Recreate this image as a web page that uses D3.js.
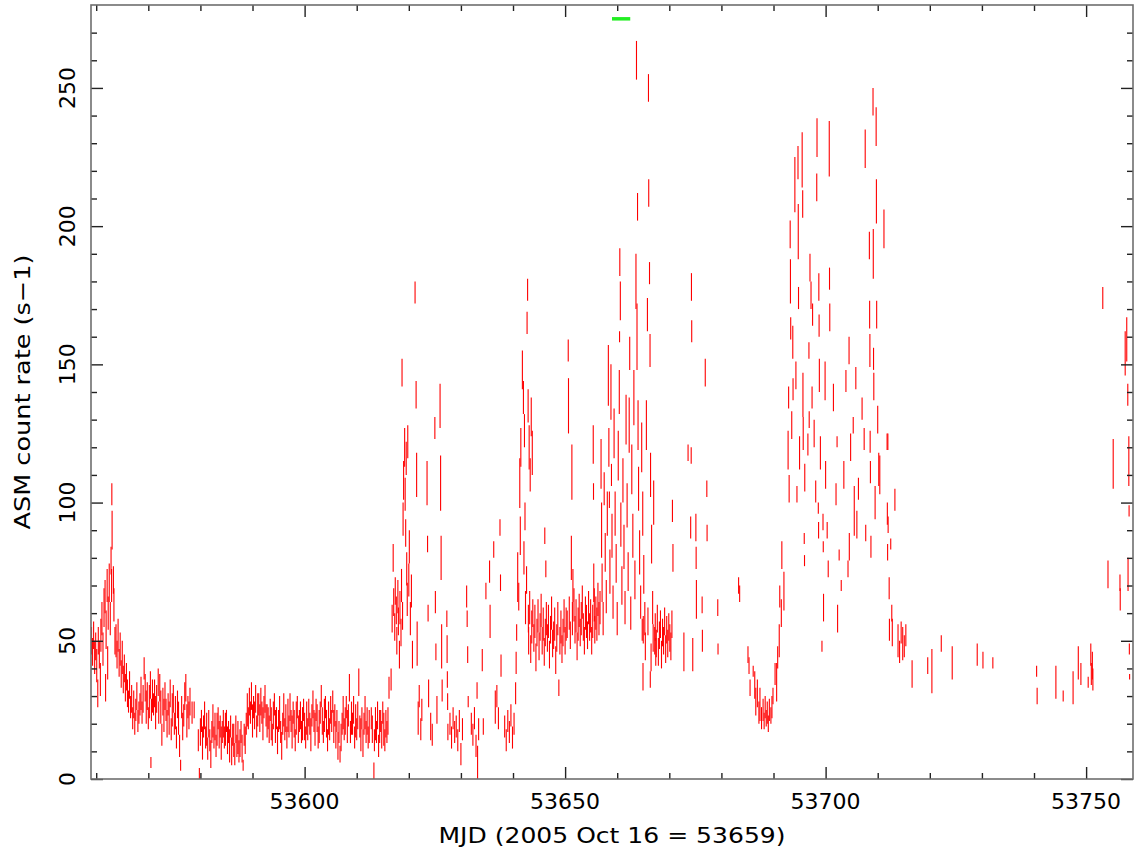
<!DOCTYPE html>
<html>
<head>
<meta charset="utf-8">
<script src="https://cdn.jsdelivr.net/npm/d3@7"></script>
<style>
  body { margin: 0; background: #fff; }
  text { font-family: "DejaVu Sans", sans-serif; fill: #000; }
</style>
</head>
<body>
<div class="chart"></div>
<script>
// ASM dwell points: [MJD, count rate, 1-sigma error]
var decayStart = [
  [53559.1,50,5],[53559.3,46,5],[53559.5,52,5],[53559.7,44,6],[53559.9,48,5],[53560.1,41,6],[53560.3,31,5],
  [53560.4,50,5],[53560.6,45,5],[53560.8,36,6],[53560.9,52,6],[53561.1,58,6],[53561.3,47,6],[53561.5,62,7],
  [53561.7,66,6],[53561.8,33,5],[53561.9,54,7],[53562.1,70,6],[53562.2,42,6],[53562.3,60,6],[53562.5,71,7],
  [53562.7,58,6],[53562.85,79,5],[53562.95,70,6],[53563.0,103,4],[53563.05,90,7],[53563.3,72,5],[53563.4,63,6],
  [53563.6,50,5],[53563.8,50,6],[53564.0,45,5],[53564.2,52,6],[53564.4,42,5],[53564.6,47,6],[53564.8,38,5],
  [53565.0,44,6],[53565.2,36,5],[53565.4,40,5],[53565.6,33,5],[53565.8,37,5],[53566.0,31,5],[53566.2,28,4],
  [53566.4,34,5],[53566.6,26,4],[53566.8,29,5],[53567.0,22,4],[53567.2,27,5],[53567.4,20,4],[53567.6,25,4],
  [53567.8,30,5],[53568.0,21,4],[53568.2,24,4]
];

var lowState1 = [
  [53568.4,27,4],[53568.6,31,6],[53568.8,24,4],[53569.0,29,5],[53569.2,40,4],[53569.4,33,5],[53569.6,26,6],
  [53569.8,30,5],[53570.0,22,4],[53570.2,28,6],[53570.4,34,5],[53570.5,6,2],[53570.6,25,4],[53570.8,30,6],
  [53571.0,27,4],[53571.2,31,5],[53571.4,24,6],[53571.6,29,5],[53571.9,35,5],[53572.0,24,4],[53572.2,33,5],
  [53572.4,26,6],[53572.6,16,4],[53572.8,28,5],[53573.0,23,6],[53573.2,30,5],[53573.4,25,4],[53573.6,20,5],
  [53573.8,27,4],[53574.0,22,6],[53574.2,31,5],[53574.4,18,4],[53574.6,25,6],[53574.8,29,5],[53575.0,20,4],
  [53575.2,24,6],[53575.4,15,4],[53575.6,27,5],[53575.8,22,6],[53576.0,12,4],[53576.2,5,2],[53576.4,26,4],
  [53576.6,19,5],[53576.8,23,4],[53577.0,30,5],[53577.2,33,5],[53577.4,21,6],[53577.6,26,4],[53577.8,23,5],
  [53578.0,28,5],[53578.4,24,4],[53578.8,25,3],[53579.6,14,4],[53579.8,2,2],
  [53580.0,17,5],[53580.2,21,4],[53580.4,13,6],[53580.6,19,4],[53580.8,23,5],[53581.0,15,4],[53581.2,18,6],
  [53581.4,11,4],[53581.6,20,5],[53581.8,14,4],[53582.0,9,5],[53582.2,17,4],[53582.4,21,6],[53582.6,15,4],
  [53582.8,19,5],[53583.0,12,4],[53583.2,18,6],[53583.4,22,4],[53583.6,16,5],[53583.8,19,4],[53584.0,13,6],
  [53584.2,17,4],[53584.4,20,5],[53584.6,15,4],[53584.8,18,6],[53585.0,21,4],[53585.2,14,5],[53585.4,17,4],
  [53585.6,12,6],[53585.8,19,4],[53586.0,10,5],[53586.2,16,4],[53586.4,14,6],[53586.6,9,4],[53586.8,18,5],
  [53587.0,12,4],[53587.2,15,6],[53587.4,10,4],[53587.6,13,5],[53587.8,17,4],[53588.0,11,5],[53588.2,5,2],
  [53588.4,16,4],[53588.6,14,5],
  [53588.8,20,4],[53589.0,25,6],[53589.2,22,4],[53589.4,28,5],[53589.6,24,4],[53589.8,30,5],[53590.0,21,6],
  [53590.2,26,4],[53590.4,23,5],[53590.6,29,5],[53590.8,19,4],[53591.0,25,6],[53591.2,27,4],[53591.4,22,5],
  [53591.6,28,5],[53591.8,24,4],[53592.0,20,6],[53592.2,26,4],[53592.4,29,5],[53592.6,23,4],[53592.8,21,6],
  [53593.0,22,4],[53593.2,18,5],[53593.4,25,4],[53593.6,20,6],[53593.8,16,4],[53594.0,23,5],[53594.2,27,4],
  [53594.4,19,6],[53594.6,22,4],[53594.8,14,5],[53595.0,21,4],[53595.2,24,6],[53595.4,17,4],[53595.6,12,5],
  [53595.8,20,4],[53596.0,25,6],[53596.2,18,4],[53596.4,22,5],[53596.6,15,4],[53596.8,23,6],[53597.0,19,4],
  [53597.2,26,5],[53597.4,21,4],[53597.6,17,6],[53597.8,24,4],[53598.0,20,5],[53598.2,14,4],[53598.4,22,6],
  [53598.6,26,4],[53598.8,18,5],[53599.0,21,4]
];

var lowState2 = [
  [53599.2,23,5],[53599.4,17,4],[53599.6,20,6],[53599.8,25,4],[53600.0,19,5],[53600.2,15,4],[53600.4,22,6],
  [53600.6,18,4],[53600.8,24,5],[53601.0,20,4],[53601.2,16,6],[53601.4,23,4],[53601.6,27,5],[53601.8,21,4],
  [53602.0,18,6],[53602.2,25,4],[53602.4,22,5],[53602.6,15,4],[53602.8,19,6],[53603.0,24,4],[53603.2,30,4],
  [53603.4,21,5],[53603.6,17,4],[53603.8,23,6],[53604.0,26,4],[53604.2,20,5],[53604.4,14,4],[53604.6,22,6],
  [53604.8,18,4],[53605.0,25,5],[53605.2,21,4],[53605.4,28,4],[53605.6,19,6],[53605.8,23,4],[53606.0,16,5],
  [53606.2,21,4],[53606.4,12,5],[53606.6,17,4],[53606.8,9,3],[53607.0,15,5],[53607.2,20,4],[53607.4,24,6],
  [53607.6,18,4],[53607.8,21,5],[53608.0,26,4],[53608.2,19,6],[53608.4,23,4],[53608.6,33,5],[53608.8,17,4],
  [53609.0,22,6],[53609.2,20,4],[53609.4,25,5],[53609.6,15,4],[53609.8,21,6],[53610.0,18,4],[53610.2,23,5],
  [53610.4,35,5],[53610.6,19,4],[53610.8,16,6],[53611.0,22,4],[53611.2,13,5],[53611.4,20,4],[53611.6,24,6],
  [53611.8,17,4],[53612.0,21,5],[53612.2,15,4],[53612.4,19,6],[53612.8,22,4],[53613.0,18,5],[53613.3,3,3],
  [53613.4,14,4],[53613.6,20,6],[53613.8,17,4],[53614.0,23,5],[53614.2,12,4],[53614.4,19,6],[53614.6,21,4],
  [53614.8,16,5],[53615.0,24,4],[53615.2,18,6],[53615.4,14,4],[53615.6,20,5],[53615.8,17,4],[53616.0,21,5],
  [53616.2,33,4]
];

var flareOne = [
  [53616.6,36,4],[53616.8,58,5],[53617.0,80,5],[53617.1,64,5],[53617.3,55,5],[53617.4,68,5],[53617.6,61,5],
  [53617.7,50,5],[53617.9,66,6],[53618.0,57,5],[53618.2,45,5],[53618.3,62,6],[53618.5,53,5],[53618.6,70,6],
  [53618.7,147,5],[53618.8,59,5],[53618.9,94,6],[53619.0,108,7],[53619.2,120,7],[53619.3,103,6],[53619.4,89,5],
  [53619.5,116,6],[53619.6,76,6],[53619.7,65,6],[53619.8,122,6],[53620.0,72,6],[53620.1,84,6],[53620.3,58,6],
  [53620.5,68,6],[53620.7,45,5],
  [53621.2,176,4],[53621.4,139,5],[53621.5,110,8],[53621.6,49,8],[53621.8,22,6],[53622.0,30,4],[53622.3,18,4],
  [53622.5,25,4],[53623.5,107,8],[53623.6,85,3],[53623.7,60,3],[53623.8,31,5],[53624.2,19,5],[53624.5,16,4],
  [53625.0,127,4],[53625.1,64,4],[53625.2,46,3],[53625.4,25,5],[53626.0,135,8],[53626.1,107,10],[53626.2,80,8],
  [53626.3,48,8],[53626.4,32,4],[53627.3,58,3],[53627.35,47,5],[53627.4,36,3],[53627.45,28,3],[53627.5,17,3],
  [53627.9,20,4],[53628.2,15,4],[53628.5,22,4],[53628.8,17,4],[53629.1,19,4],[53629.4,14,4],[53629.7,21,4],
  [53630.0,9,4],[53630.3,18,4],[53631.1,66,4],[53631.2,58,3],[53631.3,45,3],[53631.4,28,2],[53632.0,20,4],
  [53632.3,16,4],[53632.6,22,4],[53632.9,12,4],[53633.1,32,3],[53633.2,6,6],[53633.4,18,4],[53634.1,43,4],
  [53634.3,19,3],[53634.8,68,3],[53635.5,75,4],[53635.6,57,6],[53636.3,83,3],[53636.6,26,6],[53636.9,30,4],
  [53637.2,22,4],[53637.5,91,3],[53637.6,71,3],[53637.7,41,4],[53638.4,19,4],[53638.7,14,4],[53639.0,21,4],
  [53639.3,17,4],[53639.6,23,4],[53639.9,15,4],[53640.2,20,4],[53640.5,31,4],[53640.6,42,4],[53640.7,53,3],
  [53640.9,73,9],[53641.1,66,5],[53641.3,107,9],[53641.4,88,7],[53641.5,120,7],[53641.8,148,7],[53642.0,138,6],
  [53642.1,80,6],[53642.2,126,6],[53642.3,95,5],[53642.4,62,6],[53642.6,72,5],[53642.7,165,4],[53642.8,177,4]
];

var plateau = [
  [53642.9,135,6],[53643.1,120,8],[53643.3,110,6],[53643.5,131,7],[53643.7,118,8],
  [53642.95,58,5],[53643.0,50,5],[53643.2,62,6],[53643.4,47,5],[53643.6,55,6],[53643.8,60,5],[53644.0,51,5],
  [53644.2,57,6],[53644.4,44,5],[53644.6,53,5],[53644.8,59,6],[53645.0,48,5],[53645.2,55,5],[53645.4,61,6],
  [53645.6,50,5],[53645.8,56,6],[53646.0,46,5],[53646.1,88,3],[53646.2,53,5],[53646.3,76,3],[53646.4,58,6],
  [53646.6,51,5],[53646.8,57,6],[53647.0,45,5],[53647.2,54,5],[53647.4,60,6],[53647.6,49,5],[53647.8,52,5],
  [53648.0,56,6],[53648.2,43,5],[53648.4,51,5],[53648.6,58,6],[53648.8,33,3],[53649.0,50,5],[53649.2,55,6],
  [53649.4,47,5],[53649.6,53,5],[53649.8,59,6],[53650.0,50,5],[53650.2,56,6],[53650.4,56,5],[53650.6,155,4],
  [53650.65,135,10],[53650.8,60,6],[53651.0,52,5],[53651.2,80,8],[53651.3,111,10],[53651.4,58,6],[53651.5,70,6],
  [53651.7,63,6],[53651.9,54,5],[53652.1,59,6],[53652.3,48,5],[53652.5,56,6],[53652.7,61,6],[53652.9,53,5],
  [53653.1,58,6],[53653.3,64,6],[53653.5,55,5],[53653.7,50,5],[53653.9,60,6],[53654.1,57,6],[53654.3,52,5],
  [53654.5,62,6],[53654.7,55,5],[53654.9,59,6],[53655.1,50,5],[53655.3,57,6],[53655.4,121,7],[53655.45,104,3],
  [53655.5,71,7],[53655.6,63,6],[53655.7,54,5],[53655.9,60,6],[53656.1,56,6],[53656.3,65,6],[53656.5,58,6]
];

var flareTwo = [
  [53656.7,62,6],[53656.9,114,9],[53657.0,90,10],[53657.1,71,7],[53657.3,58,6],[53657.5,105,6],[53657.7,82,7],
  [53657.9,66,6],[53658.1,96,8],[53658.3,146,11],[53658.4,120,7],[53658.5,101,3],[53658.6,75,8],[53658.8,140,10],
  [53658.9,110,4],[53659.0,88,8],[53659.2,64,6],[53659.4,125,9],[53659.6,96,8],[53659.8,78,7],[53660.0,58,6],
  [53660.2,117,9],[53660.4,140,8],[53660.45,160,2],[53660.5,187,5],[53660.6,173,7],[53660.7,92,8],[53660.9,70,7],
  [53661.1,108,8],[53661.3,84,8],[53661.5,62,6],[53661.7,130,9],[53661.9,99,8],[53662.1,75,7],[53662.3,128,10],
  [53662.4,154,6],[53662.6,60,6],[53662.8,112,9],[53663.0,88,8],[53663.2,138,10],[53663.4,72,7],[53663.6,180,10],
  [53663.7,260,7],[53663.8,160,12],[53663.9,207,5],[53664.0,128,9],[53664.1,105,8],[53664.3,82,8],[53664.5,64,6],
  [53664.7,120,9],[53664.8,54,4],[53664.9,96,8],[53664.95,37,5],[53665.0,54,5],[53665.1,74,7],[53665.3,58,6],
  [53665.4,48,5],[53665.6,128,9],[53665.8,168,6],[53665.9,57,5],[53666.0,250,5],[53666.05,212,5],[53666.2,183,4],
  [53666.3,155,6],[53666.35,36,3],[53666.4,110,8],[53666.5,44,5],[53666.6,85,7],[53666.8,62,6],[53666.9,51,5],
  [53667.0,100,8],[53667.2,50,5],[53667.3,55,5],[53667.4,46,5],[53667.5,49,5],[53667.7,58,5],[53667.9,46,5],
  [53668.1,52,5],[53668.3,56,5],[53668.5,45,5],[53668.7,53,5],[53668.9,50,5],[53669.1,57,5],[53669.3,47,5],
  [53669.5,54,5],[53669.7,49,5],[53669.9,55,5],[53670.1,51,5],[53670.3,48,5],[53670.5,56,5],[53670.6,97,4],
  [53670.7,80,5]
];

var interFlare = [
  [53672.8,46,7],[53673.6,118,3],[53674.1,91,4],[53674.2,117,3],[53674.25,178,5],[53674.3,162,4],[53674.5,45,6],
  [53675.1,91,5],[53675.15,80,4],[53675.2,65,7],[53676.3,63,3],[53676.35,50,4],[53676.9,147,5],[53677.2,105,3],
  [53677.25,89,3],[53679.3,62,3],[53679.35,47,2],[53683.3,70,3],[53683.5,67,3],
  [53685.1,45,3],[53685.3,41,3],[53685.5,33,3],[53686.1,39,2],[53686.4,34,5],[53686.6,28,5],[53686.9,31,5],
  [53687.2,24,4],[53687.4,27,6],[53687.7,22,4],[53688.0,25,4],[53688.2,21,3],[53688.4,26,4],[53688.6,22,3],
  [53688.8,24,4],[53689.0,20,3],[53689.2,25,4],[53689.5,23,3],[53689.7,26,4],[53689.9,30,3],[53690.3,38,4],
  [53690.6,35,7],[53690.8,44,4],[53691.1,50,6],[53691.2,66,4],[53691.5,60,5],[53691.6,81,5],[53692.0,68,7]
];

var flareThree = [
  [53692.8,119,7],[53693.0,105,5],[53693.2,197,5],[53693.25,180,8],[53693.3,163,4],[53692.9,138,4],[53693.7,158,6],
  [53693.75,141,4],[53694.1,215,10],[53694.5,103,3],[53694.7,223,6],[53694.75,198,10],[53694.8,174,4],
  [53695.5,224,10],[53695.6,208,5],[53695.65,139,8],[53695.7,125,6],[53695.9,87,2],[53695.95,79,2],[53696.6,121,4],
  [53696.8,155,3],[53696.85,130,3],[53697.0,185,5],[53697.2,175,5],[53697.4,138,4],[53697.5,168,4],
  [53698.3,214,5],[53698.35,232,7],[53698.7,178,5],[53698.75,164,4],[53698.8,146,6],[53698.6,98,2],[53698.65,90,3],
  [53699.5,93,3],[53699.55,84,2],[53699.6,62,5],[53699.3,48,2],[53699.9,144,7],[53700.3,90,3],[53700.7,228,10],
  [53700.75,181,4],[53700.8,167,5],[53702.2,122,2],[53702.3,58,5],[53702.6,81,2],[53703.0,70,2],[53703.9,144,4],
  [53704.3,76,3],[53704.5,155,5],[53704.55,84,5],[53705.3,128,3],[53705.5,97,9],[53705.8,145,4],[53706.0,92,5],
  [53707.4,123,4],[53707.6,228,7],[53707.7,89,3],[53708.4,193,5],[53708.45,168,5],[53708.5,155,6],[53708.55,122,4],
  [53708.6,111,4],[53708.7,84,4],[53709.1,245,5],[53709.15,190,9],[53709.2,152,4],[53709.25,142,5],[53709.5,100,6],
  [53709.7,236,7],[53709.75,209,8],[53709.8,168,5],[53710.2,112,6],[53710.4,110,7],[53711.2,199,7],[53711.8,122,3],
  [53711.85,96,4],[53711.9,82,3],[53711.95,122,3],[53712.0,92,3],[53712.2,69,4],[53712.25,54,4],[53712.5,85,2],
  [53712.7,60,3],[53712.8,53,5],[53713.3,101,4],[53713.9,50,6],[53714.2,46,4],[53714.5,53,4],[53714.8,49,6],
  [53715.1,48,4],[53715.4,52,4],
  [53693.5,128,5],[53694.3,146,5],[53695.0,118,6],[53696.0,109,5],[53697.8,125,5],[53698.1,104,4],[53699.0,118,6],
  [53700.0,110,5],[53700.5,76,3],[53701.5,138,5],[53702.0,103,4],[53703.5,110,5],[53704.8,120,5],[53706.3,105,4],
  [53707.0,134,4],[53710.0,130,5]
];

var tailPoints = [
  [53716.6,38,5],[53719.6,41,3],[53720.4,39,8],[53722.2,49,3],[53724.3,42,6],[53729.1,45,4],[53730.2,43,3],
  [53732.1,42,2],[53740.5,39,2],[53740.6,30,3],[53744.2,35,6],[53745.6,30,2],[53747.5,33,6],[53748.5,42,6],
  [53749.0,38,4],[53750.4,35,2],[53750.9,45,4],[53751.0,38,4],[53751.2,41,5],[53751.3,36,4],[53753.2,174,4],
  [53754.2,74,5],[53755.2,114,9],[53756.5,71,3],[53756.55,65,4],[53757.5,154,8],[53757.8,159,8],[53758.0,139,4],
  [53758.05,74,6],[53758.2,115,9],[53758.25,97,2],[53758.3,47,2],[53758.35,37,1]
];

// green bar: window marked above the light curve
var markStart = 53659.0, markEnd = 53662.5, markLevel = 275;

var xMajor = [53600, 53650, 53700, 53750];
var yMajor = [0, 50, 100, 150, 200, 250];

var svgWidth = 1136;
var svgHeight = 850;

var margin = { top: 5, right: 3, bottom: 71, left: 91 };
var width = svgWidth - margin.left - margin.right;
var height = svgHeight - margin.top - margin.bottom;

var svg = d3.select(".chart")
  .append("svg")
  .attr("width", svgWidth)
  .attr("height", svgHeight);

var chartGroup = svg.append("g")
  .attr("transform", `translate(${margin.left}, ${margin.top})`);

var xScale = d3.scaleLinear().domain([53559, 53759]).range([0, width]);
var yScale = d3.scaleLinear().domain([0, 280]).range([height, 0]);

var xMinor = d3.range(53560, 53760, 10).filter(d => xMajor.indexOf(d) < 0);
var yMinor = d3.range(10, 280, 10).filter(d => yMajor.indexOf(d) < 0);

svg.append("defs").append("clipPath").attr("id", "plotclip")
  .append("rect").attr("width", width).attr("height", height);

// error bars
var allPoints = [].concat(decayStart, lowState1, lowState2, flareOne, plateau, flareTwo, interFlare, flareThree, tailPoints);

chartGroup.append("g")
  .attr("clip-path", "url(#plotclip)")
  .selectAll("line")
  .data(allPoints)
  .enter()
  .append("line")
  .attr("x1", d => xScale(d[0]))
  .attr("x2", d => xScale(d[0]))
  .attr("y1", d => yScale(d[1] - d[2]))
  .attr("y2", d => yScale(d[1] + d[2]))
  .attr("stroke", "#ff0000")
  .attr("stroke-width", 1.1);

chartGroup.append("line")
  .attr("x1", xScale(markStart))
  .attr("x2", xScale(markEnd))
  .attr("y1", yScale(markLevel))
  .attr("y2", yScale(markLevel))
  .attr("stroke", "#22ee22")
  .attr("stroke-width", 3.5);

// inward ticks on all four sides
function tickAxis(axis, vals, size) {
  return axis.tickValues(vals).tickSize(-size).tickFormat("");
}
var sides = [
  [d3.axisBottom(xScale), xMajor, xMinor, `translate(0, ${height})`],
  [d3.axisTop(xScale), xMajor, xMinor, "translate(0, 0)"],
  [d3.axisLeft(yScale), yMajor, yMinor, "translate(0, 0)"],
  [d3.axisRight(yScale), yMajor, yMinor, `translate(${width}, 0)`]
];
sides.forEach(function(s) {
  [[s[1], 12], [s[2], 6]].forEach(function(t) {
    var g = chartGroup.append("g")
      .attr("transform", s[3])
      .call(tickAxis(s[0], t[0], t[1]));
    g.select(".domain").remove();
    g.selectAll(".tick line").attr("stroke", "#222").attr("stroke-width", 1.4);
  });
});

chartGroup.append("rect")
  .attr("width", width)
  .attr("height", height)
  .attr("fill", "none")
  .attr("stroke", "#6e6e6e")
  .attr("stroke-width", 1.6);

// tick labels
chartGroup.selectAll(".xlab")
  .data(xMajor)
  .enter()
  .append("text")
  .attr("x", d => xScale(d))
  .attr("y", height + 30)
  .attr("text-anchor", "middle")
  .attr("font-size", "22px")
  .text(d => d);

chartGroup.selectAll(".ylab")
  .data(yMajor)
  .enter()
  .append("text")
  .attr("transform", d => `translate(-16, ${yScale(d)}) rotate(-90)`)
  .attr("text-anchor", "middle")
  .attr("font-size", "22px")
  .text(d => d);

// axis titles
svg.append("text")
  .attr("x", margin.left + width / 2)
  .attr("y", 843)
  .attr("text-anchor", "middle")
  .attr("font-size", "22px")
  .attr("textLength", 347)
  .attr("lengthAdjust", "spacingAndGlyphs")
  .text("MJD (2005 Oct 16 = 53659)");

svg.append("text")
  .attr("transform", `translate(30, ${margin.top + height / 2}) rotate(-90)`)
  .attr("text-anchor", "middle")
  .attr("font-size", "22px")
  .attr("textLength", 275)
  .attr("lengthAdjust", "spacingAndGlyphs")
  .text("ASM count rate (s\u22121)");
</script>
</body>
</html>
